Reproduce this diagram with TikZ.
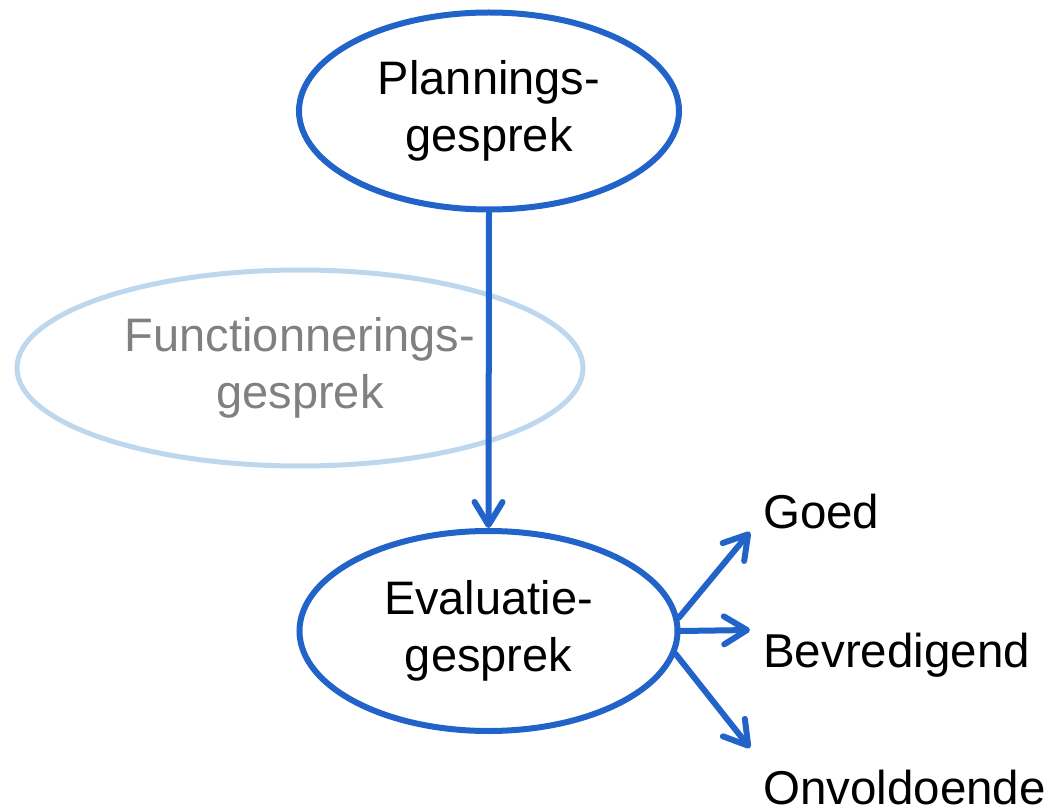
\documentclass[tikz,border=0pt]{standalone}
\usepackage{fontspec}
\setmainfont{Liberation Sans}
\usetikzlibrary{shapes.geometric,arrows.meta}
\definecolor{mainblue}{RGB}{33,99,200}
\definecolor{paleblue}{RGB}{189,215,238}
\definecolor{softgray}{RGB}{128,128,128}
\tikzset{
  talk/.style={ellipse, draw=mainblue, line width=6pt, inner sep=0pt,
    align=center, font=\fontsize{47}{57}\selectfont},
  talkpale/.style={talk, draw=paleblue, text=softgray, line width=5pt},
  flow/.style={draw=mainblue, line width=6pt, line cap=round,
    -{Straight Barb[length=23pt,width=28pt,line cap=round,line join=round]}},
  outcome/.style={anchor=base west, inner sep=0pt, font=\fontsize{47.5}{57}\selectfont},
}
\begin{document}
\begin{tikzpicture}[x=1pt,y=-1pt]
  \useasboundingbox (0,0) rectangle (1050,810);
  % optional yearly talk, drawn faintly behind the main line
  \node[talkpale, minimum width=566pt, minimum height=196pt] (func) at (300,368)
    {Functionnerings-\\gesprek};
  \node[talk, minimum width=380pt, minimum height=197pt] (plan) at (489,111)
    {Plannings-\\gesprek};
  \node[talk, minimum width=378pt, minimum height=200pt] (eval) at (488.5,631)
    {Evaluatie-\\gesprek};
  % outcomes of the evaluation
  \node[outcome] (goed) at (763,528) {Goed};
  \node[outcome] (bevr) at (763,667) {Bevredigend};
  \node[outcome] (onvo) at (763,804) {Onvoldoende};
  \coordinate (tgoed) at (750,532);
  \coordinate (tbevr) at (750,630);
  \coordinate (tonvo) at (750,748);
  \draw[flow] (plan.south) -- (eval.north);
  \draw[flow] (eval.4) -- (tgoed);
  \draw[flow] (eval.east) -- (tbevr);
  \draw[flow] (eval.-7) -- (tonvo);
\end{tikzpicture}
\end{document}
